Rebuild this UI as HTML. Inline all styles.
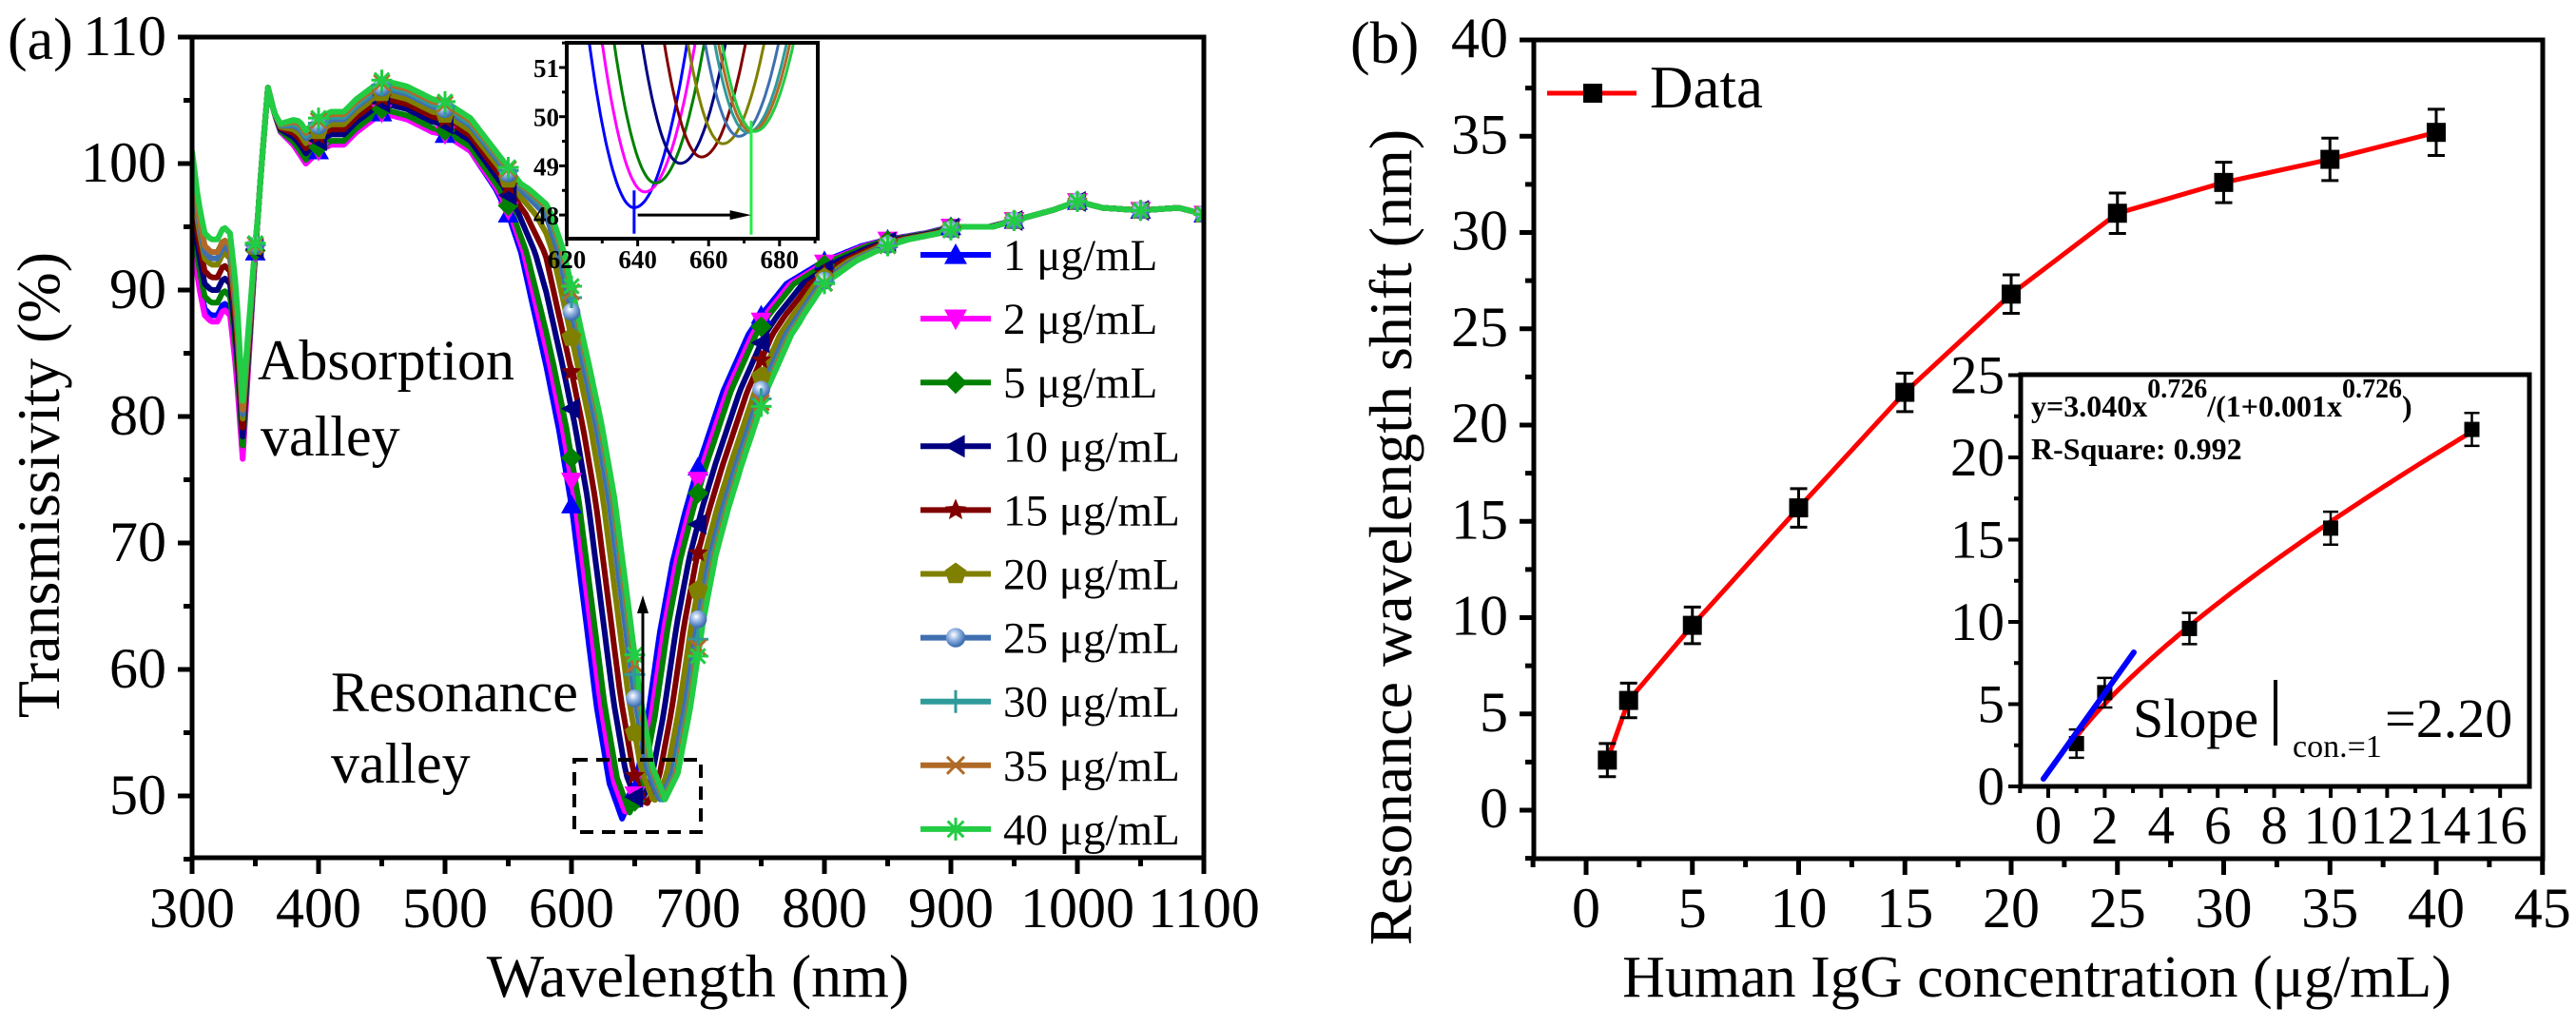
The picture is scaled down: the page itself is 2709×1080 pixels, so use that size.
<!DOCTYPE html>
<html>
<head>
<meta charset="utf-8">
<style>
html,body{margin:0;padding:0;background:#fff;}
svg{display:block;}
svg text{font-family:"Liberation Serif","Noto Serif CJK SC","DejaVu Serif",serif;fill:#000;}
.b{font-weight:bold;}
</style>
</head>
<body>
<svg id="fig" xmlns="http://www.w3.org/2000/svg" width="2709" height="1080" viewBox="0 0 2709 1080" font-family="'Liberation Serif', 'Noto Serif CJK SC', 'DejaVu Serif', serif">
<defs>
<clipPath id="clipA"><rect x="202" y="39" width="1064" height="863"/></clipPath>
<clipPath id="clipAi"><rect x="596" y="45" width="264" height="206"/></clipPath>
<clipPath id="clipBi"><rect x="2125" y="394" width="535" height="433"/></clipPath>
<radialGradient id="sph" cx="0.4" cy="0.35" r="0.6"><stop offset="0" stop-color="#ffffff"/><stop offset="0.5" stop-color="#8fb0e0"/><stop offset="1" stop-color="#3f6fb0"/></radialGradient>
</defs>

<g id="panelA">
<text x="8" y="62" font-size="62">(a)</text>
<g id="seriesA" clip-path="url(#clipA)"></g>
<rect x="202" y="39" width="1064" height="863" fill="none" stroke="#000" stroke-width="5"/>
<g id="ticksA"></g>
<text transform="translate(62,510) rotate(-90)" text-anchor="middle" font-size="64">Transmissivity (%)</text>
<text x="734" y="1048" text-anchor="middle" font-size="64">Wavelength (nm)</text>
<text x="271" y="399" font-size="60">Absorption</text>
<text x="274" y="479" font-size="60">valley</text>
<text x="348" y="748" font-size="60">Resonance</text>
<text x="348" y="823" font-size="60">valley</text>
<rect x="604" y="799" width="133" height="76" fill="none" stroke="#000" stroke-width="4" stroke-dasharray="14,9"/>
<line x1="676" y1="793" x2="676" y2="640" stroke="#000" stroke-width="3"/>
<polygon points="676,626 670,645 682,645" fill="#000"/>
<g id="legendA"></g>
<g id="insetA">
<rect x="596" y="45" width="264" height="206" fill="#fff" stroke="none"/>
<g id="insetACurves" clip-path="url(#clipAi)"></g>
<rect x="596" y="45" width="264" height="206" fill="none" stroke="#000" stroke-width="4"/>
<g id="insetATicks"></g>
</g>
</g>

<g id="panelB">
<text x="1420" y="66" font-size="62">(b)</text>
<rect x="1613" y="42" width="1061" height="861" fill="none" stroke="#000" stroke-width="5"/>
<g id="ticksB"></g>
<g id="seriesB"></g>
<text transform="translate(1484,565) rotate(-90)" text-anchor="middle" font-size="64">Resonance wavelength shift (nm)</text>
<text x="2142" y="1048" text-anchor="middle" font-size="62">Human IgG concentration (μg/mL)</text>
<g>
<line x1="1627" y1="98" x2="1721" y2="98" stroke="#ff0000" stroke-width="5"/>
<rect x="1665" y="88" width="20" height="20" fill="#000"/>
<text x="1735" y="113" font-size="63">Data</text>
</g>
<g id="insetB">
<rect x="2125" y="394" width="535" height="433" fill="#fff"/>
<g id="insetBData" clip-path="url(#clipBi)"></g>
<rect x="2125" y="394" width="535" height="433" fill="none" stroke="#000" stroke-width="5"/>
<g id="insetBTicks"></g>
<text x="2136" y="438" font-size="32" class="b">y=3.040x<tspan dy="-20" font-size="28">0.726</tspan><tspan dy="20">/(1+0.001x</tspan><tspan dy="-20" font-size="28">0.726</tspan><tspan dy="20">)</tspan></text>
<text x="2136" y="483" font-size="32" class="b">R-Square: 0.992</text>
<text x="2243" y="775" font-size="58">Slope</text>
<line x1="2393" y1="715" x2="2393" y2="784" stroke="#000" stroke-width="4"/>
<text x="2411" y="796" font-size="34">con.=1</text>
<text x="2508" y="775" font-size="58">=2.20</text>
</g>
</g>
</svg>

<script>
// ---------- Panel (a) data ----------
const baseWl = [300,305,310,315,320,325,330,335,340,345,350,355,360,365,370,380,390,395,400,410,420,430,450,470,490,500,520,540,550,560,570,580,590,600,610,620,630,640,650,660,670,680,690,700,720,740,750,770,800,830,850,880,900,930,950,980,1000,1020,1050,1080,1100];
const baseT = [95,91,88.5,88,88,89,88.5,84,77,85,93,100,106,104,102.5,101.5,100,100.5,101,101.5,101.5,102.5,104,103.5,102.5,102.3,101,98,96,93,88.5,84,79,73,65,57,51,48.2,50.5,56,63,68.5,72.5,76,82,86.5,88,90.5,92.3,93.5,94,94.5,95,95,95.5,96.3,97,96.5,96.3,96.5,96];
const seriesLabels = ["1 μg/mL","2 μg/mL","5 μg/mL","10 μg/mL","15 μg/mL","20 μg/mL","25 μg/mL","30 μg/mL","35 μg/mL","40 μg/mL"];
const seriesColors = ["#0000ff","#ff00ff","#008000","#000080","#800000","#808000","#3f6fb0","#2f9a9a","#b06a28","#22cc44"];
const seriesMarkers = ["tri-up","tri-down","diamond","tri-left","star","pentagon","sphere","plus","cross","asterisk"];
const resMinWl = [639,642,645,652,658,664,668.5,671,672,673];
const resMinT = [48.15,48.47,48.65,49.05,49.18,49.45,49.6,49.68,49.7,49.7];
const uvOffset = [0,-0.5,1,2,3,4,4.5,5,5,6];
const plateauOffset = [0,0,0.3,0.8,1.2,1.6,2,2.2,2.4,2.6];
const markerWl = [350,400,450,500,550,600,650,700,750,800,850,900,950,1000,1050,1100];
const xTicksA = [300,400,500,600,700,800,900,1000,1100];
const yTicksA = [50,60,70,80,90,100,110];
const insetXTicksA = [620,640,660,680];
const insetYTicksA = [48,49,50,51];

// ---------- Panel (b) data ----------
const conc = [1,2,5,10,15,20,25,30,35,40];
const shiftVals = [2.6,5.7,9.6,15.7,21.7,26.8,31.0,32.6,33.8,35.2];
const shiftErr = [0.86,0.9,0.95,1.0,1.0,1.0,1.05,1.05,1.1,1.2];
const xTicksB = [0,5,10,15,20,25,30,35,40,45];
const yTicksB = [0,5,10,15,20,25,30,35,40];
const insetConc = [1,2,5,10,15];
const insetShift = [2.6,5.7,9.6,15.7,21.7];
const insetErr = [0.86,0.9,0.95,1.0,1.0];
const insetXTicks = [0,2,4,6,8,10,12,14,16];
const insetYTicks = [0,5,10,15,20,25];
const fitA = [3.040];
const fitB = [0.726];
const fitC = [0.001];
const slopeLineX = [-0.17,3.03];
const slopeLineY = [0.46,8.15];

const xA = v => 202 + (v - 300) * 1.33;
const yA = v => 39 + (110 - v) * 13.3;
const xAi = v => 596 + (v - 620) * 3.73;
const yAi = v => 71 + (51 - v) * 51.7;
const xB = v => 1668 + v * 22.35;
const yB = v => 852 - v * 20.25;
const xBi = v => 2154 + v * 29.7;
const yBi = v => 827 - v * 17.3;

const NS = "http://www.w3.org/2000/svg";
function mk(tag, attrs, parent) {
  const el = document.createElementNS(NS, tag);
  for (const k in attrs) el.setAttribute(k, attrs[k]);
  parent.appendChild(el);
  return el;
}
function interp(xs, ys, x) {
  if (x <= xs[0]) return ys[0];
  if (x >= xs[xs.length - 1]) return ys[ys.length - 1];
  for (let i = 1; i < xs.length; i++) {
    if (x <= xs[i]) {
      const t = (x - xs[i - 1]) / (xs[i] - xs[i - 1]);
      return ys[i - 1] + t * (ys[i] - ys[i - 1]);
    }
  }
}
function ramp(x, a, b) { return Math.max(0, Math.min(1, (x - a) / (b - a))); }
function spectrum(i, wl) {
  const shift = resMinWl[i] - resMinWl[0];
  const w = ramp(wl, 520, 580) * (1 - ramp(wl, 780, 950));
  let v = interp(baseWl, baseT, wl - shift * w);
  const g = Math.max(0, 1 - Math.abs(wl - resMinWl[i]) / 60);
  v += (resMinT[i] - resMinT[0]) * g;
  v += uvOffset[i] * (1 - ramp(wl, 335, 352));
  v += plateauOffset[i] * ramp(wl, 365, 385) * (1 - ramp(wl, 520, 560));
  return v;
}
function marker(type, x, y, color, s, parent) {
  let el;
  const h = s / 2;
  if (type === "tri-up") el = mk("polygon", {points: `${x},${y-h} ${x-h},${y+h*0.8} ${x+h},${y+h*0.8}`, fill: color}, parent);
  else if (type === "tri-down") el = mk("polygon", {points: `${x},${y+h} ${x-h},${y-h*0.8} ${x+h},${y-h*0.8}`, fill: color}, parent);
  else if (type === "tri-left") el = mk("polygon", {points: `${x-h},${y} ${x+h*0.8},${y-h} ${x+h*0.8},${y+h}`, fill: color}, parent);
  else if (type === "diamond") el = mk("polygon", {points: `${x},${y-h} ${x+h},${y} ${x},${y+h} ${x-h},${y}`, fill: color}, parent);
  else if (type === "star") {
    let p = [];
    for (let k = 0; k < 10; k++) { const r = k % 2 ? h * 0.45 : h; const a = -Math.PI / 2 + k * Math.PI / 5; p.push((x + r * Math.cos(a)).toFixed(1) + "," + (y + r * Math.sin(a)).toFixed(1)); }
    el = mk("polygon", {points: p.join(" "), fill: color}, parent);
  } else if (type === "pentagon") {
    let p = [];
    for (let k = 0; k < 5; k++) { const a = -Math.PI / 2 + k * 2 * Math.PI / 5; p.push((x + h * Math.cos(a)).toFixed(1) + "," + (y + h * Math.sin(a)).toFixed(1)); }
    el = mk("polygon", {points: p.join(" "), fill: color}, parent);
  } else if (type === "sphere") el = mk("circle", {cx: x, cy: y, r: h * 0.85, fill: "url(#sph)"}, parent);
  else if (type === "plus") el = mk("path", {d: `M${x-h},${y}H${x+h}M${x},${y-h}V${y+h}`, stroke: color, "stroke-width": 3, fill: "none"}, parent);
  else if (type === "cross") el = mk("path", {d: `M${x-h*0.75},${y-h*0.75}L${x+h*0.75},${y+h*0.75}M${x-h*0.75},${y+h*0.75}L${x+h*0.75},${y-h*0.75}`, stroke: color, "stroke-width": 3, fill: "none"}, parent);
  else if (type === "asterisk") el = mk("path", {d: `M${x-h},${y}H${x+h}M${x},${y-h}V${y+h}M${x-h*0.7},${y-h*0.7}L${x+h*0.7},${y+h*0.7}M${x-h*0.7},${y+h*0.7}L${x+h*0.7},${y-h*0.7}`, stroke: color, "stroke-width": 3, fill: "none"}, parent);
  else if (type === "square") el = mk("rect", {x: x - h, y: y - h, width: s, height: s, fill: color}, parent);
  return el;
}

const gA = document.getElementById("seriesA");
for (let i = 0; i < seriesLabels.length; i++) {
  const pts = [];
  for (let wl = 300; wl <= 1100; wl += 2) pts.push(xA(wl).toFixed(1) + "," + yA(spectrum(i, wl)).toFixed(1));
  const pl = mk("polyline", {points: pts.join(" "), fill: "none", stroke: seriesColors[i], "stroke-width": 6, "stroke-linejoin": "round"}, gA);
  
  
}
for (let i = 0; i < seriesLabels.length; i++) {
  for (const wl of markerWl) {
    const m = marker(seriesMarkers[i], xA(wl), yA(spectrum(i, wl)), seriesColors[i], 22, gA);
    
    
  }
}
const tA = document.getElementById("ticksA");
for (let v = 300; v <= 1100; v += 50) {
  const major = v % 100 === 0;
  const t = mk("line", {x1: xA(v), y1: 902, x2: xA(v), y2: 902 + (major ? 17 : 9), stroke: "#000", "stroke-width": 5}, tA);
  
  
}
for (const v of xTicksA) {
  const t = mk("text", {x: xA(v), y: 975, "text-anchor": "middle", "font-size": 60}, tA);
  t.textContent = v;
  
  
}
for (let v = 45; v <= 110; v += 5) {
  const major = v % 10 === 0;
  const t = mk("line", {x1: 202, y1: yA(v), x2: 202 - (major ? 15 : 9), y2: yA(v), stroke: "#000", "stroke-width": 5}, tA);
  
  
}
for (const v of yTicksA) {
  const t = mk("text", {x: 175, y: yA(v) + 19, "text-anchor": "end", "font-size": 60}, tA);
  t.textContent = v;
  
  
}
const lgA = document.getElementById("legendA");
for (let i = 0; i < seriesLabels.length; i++) {
  const y = 268 + 67.1 * i;
  const l = mk("line", {x1: 968, y1: y, x2: 1042, y2: y, stroke: seriesColors[i], "stroke-width": 6}, lgA);
  
  
  const m = marker(seriesMarkers[i], 1005, y, seriesColors[i], 24, lgA);
  
  
  const t = mk("text", {x: 1055, y: y + 16, "font-size": 47}, lgA);
  t.textContent = seriesLabels[i];
  
  
}
const gAi = document.getElementById("insetACurves");
for (let i = 0; i < seriesLabels.length; i++) {
  const pts = [];
  for (let wl = 615; wl <= 695; wl += 0.5) {
    const d = wl - resMinWl[i];
    const k = d < 0 ? 0.021 : 0.015;
    pts.push(xAi(wl).toFixed(1) + "," + yAi(resMinT[i] + k * d * d).toFixed(1));
  }
  const pl = mk("polyline", {points: pts.join(" "), fill: "none", stroke: seriesColors[i], "stroke-width": 3}, gAi);
  
  
}
const vb = mk("line", {x1: xAi(resMinWl[0]), y1: yAi(48.5), x2: xAi(resMinWl[0]), y2: yAi(47.62), stroke: "#0000ff", "stroke-width": 3}, gAi);


const vg = mk("line", {x1: xAi(672), y1: yAi(49.92), x2: xAi(672), y2: yAi(47.6), stroke: "#22ee44", "stroke-width": 3}, gAi);


const ar = mk("line", {x1: xAi(640), y1: yAi(48.0), x2: xAi(668), y2: yAi(48.0), stroke: "#000", "stroke-width": 3}, gAi);


const ah = mk("polygon", {points: `${xAi(672)},${yAi(48.0)} ${xAi(666)},${yAi(48.0)-5} ${xAi(666)},${yAi(48.0)+5}`, fill: "#000"}, gAi);


const tAi = document.getElementById("insetATicks");
for (let v = 620; v <= 690; v += 10) {
  const t = mk("line", {x1: xAi(v), y1: 251, x2: xAi(v), y2: 251 + (v % 20 === 0 ? 8 : 5), stroke: "#000", "stroke-width": 3}, tAi);
  
  
}
for (const v of insetXTicksA) {
  const t = mk("text", {x: xAi(v), y: 282, "text-anchor": "middle", "font-size": 27, "font-weight": "bold"}, tAi);
  t.textContent = v;
  
  
}
for (let v = 48; v <= 51.5; v += 0.5) {
  const t = mk("line", {x1: 596, y1: yAi(v), x2: 596 - (v % 1 === 0 ? 8 : 5), y2: yAi(v), stroke: "#000", "stroke-width": 3}, tAi);
  
  
}
for (const v of insetYTicksA) {
  const t = mk("text", {x: 588, y: yAi(v) + 10, "text-anchor": "end", "font-size": 27, "font-weight": "bold"}, tAi);
  t.textContent = v;
  
  
}

const tB = document.getElementById("ticksB");
for (let v = -2.5; v <= 45; v += 2.5) {
  const major = v % 5 === 0;
  const t = mk("line", {x1: xB(v), y1: 903, x2: xB(v), y2: 903 + (major ? 17 : 9), stroke: "#000", "stroke-width": 5}, tB);
  
  
}
for (const v of xTicksB) {
  const t = mk("text", {x: xB(v), y: 975, "text-anchor": "middle", "font-size": 60}, tB);
  t.textContent = v;
  
  
}
for (let v = -2.5; v <= 40; v += 2.5) {
  const major = v % 5 === 0;
  const t = mk("line", {x1: 1613, y1: yB(v), x2: 1613 - (major ? 15 : 9), y2: yB(v), stroke: "#000", "stroke-width": 5}, tB);
  
  
}
for (const v of yTicksB) {
  const t = mk("text", {x: 1586, y: yB(v) + 18, "text-anchor": "end", "font-size": 60}, tB);
  t.textContent = v;
  
  
}
const gB = document.getElementById("seriesB");
const lineB = mk("polyline", {points: conc.map((c, i) => xB(c).toFixed(1) + "," + yB(shiftVals[i]).toFixed(1)).join(" "), fill: "none", stroke: "#ff0000", "stroke-width": 5}, gB);


for (let i = 0; i < conc.length; i++) {
  const x = xB(conc[i]);
  const e = mk("path", {d: `M${x},${yB(shiftVals[i]-shiftErr[i])}V${yB(shiftVals[i]+shiftErr[i])}M${x-9},${yB(shiftVals[i]-shiftErr[i])}H${x+9}M${x-9},${yB(shiftVals[i]+shiftErr[i])}H${x+9}`, stroke: "#000", "stroke-width": 3, fill: "none"}, gB);
  
  
  const m = marker("square", x, yB(shiftVals[i]), "#000", 20, gB);
  
  
}
const gBi = document.getElementById("insetBData");
const fitPts = [];
for (let c = 1; c <= 15.05; c += 0.1) {
  const p = Math.pow(c, fitB[0]);
  fitPts.push(xBi(c).toFixed(1) + "," + yBi(fitA[0] * p / (1 + fitC[0] * p)).toFixed(1));
}
const fit = mk("polyline", {points: fitPts.join(" "), fill: "none", stroke: "#ff0000", "stroke-width": 5}, gBi);


for (let i = 0; i < insetConc.length; i++) {
  const x = xBi(insetConc[i]);
  const e = mk("path", {d: `M${x},${yBi(insetShift[i]-insetErr[i])}V${yBi(insetShift[i]+insetErr[i])}M${x-8},${yBi(insetShift[i]-insetErr[i])}H${x+8}M${x-8},${yBi(insetShift[i]+insetErr[i])}H${x+8}`, stroke: "#000", "stroke-width": 2.5, fill: "none"}, gBi);
  
  
  const m = marker("square", x, yBi(insetShift[i]), "#000", 16, gBi);
  
  
}
const sl = mk("line", {x1: xBi(slopeLineX[0]), y1: yBi(slopeLineY[0]), x2: xBi(slopeLineX[1]), y2: yBi(slopeLineY[1]), stroke: "#0000ff", "stroke-width": 6, "stroke-linecap": "round"}, gBi);


const tBi = document.getElementById("insetBTicks");
for (let v = -1; v <= 16; v += 1) {
  const major = v % 2 === 0;
  const t = mk("line", {x1: xBi(v), y1: 827, x2: xBi(v), y2: 827 + (major ? 12 : 7), stroke: "#000", "stroke-width": 4}, tBi);
  
  
}
for (const v of insetXTicks) {
  const t = mk("text", {x: xBi(v), y: 887, "text-anchor": "middle", "font-size": 57}, tBi);
  t.textContent = v;
  
  
}
for (let v = 0; v <= 25; v += 2.5) {
  const major = v % 5 === 0;
  const t = mk("line", {x1: 2125, y1: yBi(v), x2: 2125 - (major ? 13 : 7), y2: yBi(v), stroke: "#000", "stroke-width": 4}, tBi);
  
  
}
for (const v of insetYTicks) {
  const t = mk("text", {x: 2108, y: yBi(v) + 19, "text-anchor": "end", "font-size": 57}, tBi);
  t.textContent = v;
  
  
}
</script>
</body>
</html>
